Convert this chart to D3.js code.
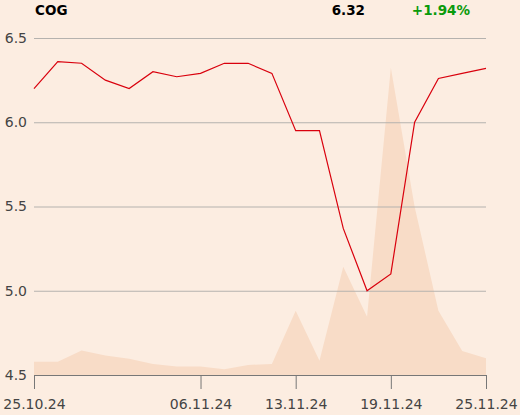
<!DOCTYPE html>
<html>
<head>
<meta charset="utf-8">
<script src="https://cdn.jsdelivr.net/npm/d3@7"></script>
<style>
  body { margin: 0; background: #fcede1; }
  svg text { font-family: "DejaVu Sans", sans-serif; }
  .grid line { stroke: #b5b2ae; }
  .grid text { fill: #444; font-size: 14px; }
  .xaxis line, .xaxis path { stroke: #777; }
  .xaxis text { fill: #444; font-size: 14px; }
</style>
</head>
<body>
<svg id="svg1" width="520" height="415"></svg>
<script>
// trading days (1.11 and 11.11 are holidays)
var dates = ["25.10.24","28.10.24","29.10.24","30.10.24","31.10.24","04.11.24","05.11.24",
             "06.11.24","07.11.24","08.11.24","12.11.24","13.11.24","14.11.24","15.11.24",
             "18.11.24","19.11.24","20.11.24","21.11.24","22.11.24","25.11.24"];
var prices = [6.20, 6.36, 6.35, 6.25, 6.20, 6.30, 6.27, 6.29, 6.35, 6.35,
              6.29, 5.95, 5.95, 5.37, 5.00, 5.10, 6.00, 6.26, 6.29, 6.32];
var volumes = [3900, 3900, 7300, 5800, 4800, 3300, 2500, 2500, 1700, 3000,
               3300, 19100, 4200, 32100, 17300, 91200, 49900, 19100, 7100, 5000];
var xTicks = ["25.10.24", "06.11.24", "13.11.24", "19.11.24", "25.11.24"];
var yTicks = [4.5, 5.0, 5.5, 6.0, 6.5];

var ticker = "COG";
var lastPrice = "6.32";
var change = "+1.94%";

var marginLeft = 34, plotRight = 486, plotTop = 38, plotBottom = 375;

var svg = d3.select("#svg1");

var x = d3.scalePoint().domain(dates).range([marginLeft, plotRight]);
var y = d3.scaleLinear().domain([4.5, 6.5]).range([plotBottom, plotTop]);
var yVol = d3.scaleLinear().domain([0, 100000]).range([plotBottom, plotTop]);

// volume area
var area = d3.area()
    .x(function(d, i) { return x(dates[i]); })
    .y0(plotBottom)
    .y1(function(d) { return yVol(d); });

svg.append("path")
    .datum(volumes)
    .attr("fill", "#f8dcc7")
    .attr("d", area);

// gridlines + y labels
var grid = svg.append("g")
    .attr("class", "grid")
    .attr("transform", "translate(" + marginLeft + ",0)")
    .call(d3.axisLeft(y).tickValues(yTicks).tickFormat(d3.format(".1f"))
            .tickSize(-(plotRight - marginLeft)).tickPadding(7));
grid.select(".domain").remove();

// x axis
svg.append("g")
    .attr("class", "xaxis")
    .attr("transform", "translate(0," + plotBottom + ")")
    .call(d3.axisBottom(x).tickValues(xTicks).tickSize(14).tickSizeOuter(0).tickPadding(10));

// price line
var line = d3.line()
    .x(function(d, i) { return x(dates[i]); })
    .y(function(d) { return y(d); });

svg.append("path")
    .datum(prices)
    .attr("fill", "none")
    .attr("stroke", "#d9000d")
    .attr("stroke-width", 1.2)
    .attr("d", line);

// header
svg.append("text").attr("x", 35).attr("y", 15)
    .attr("font-size", 13.5).attr("font-weight", "bold").attr("fill", "#000")
    .text(ticker);
svg.append("text").attr("x", 365).attr("y", 15).attr("text-anchor", "end")
    .attr("font-size", 13.5).attr("font-weight", "bold").attr("fill", "#000")
    .text(lastPrice);
svg.append("text").attr("x", 470).attr("y", 15).attr("text-anchor", "end")
    .attr("font-size", 13.5).attr("font-weight", "bold").attr("fill", "#0a9a0a")
    .text(change);
</script>
</body>
</html>
